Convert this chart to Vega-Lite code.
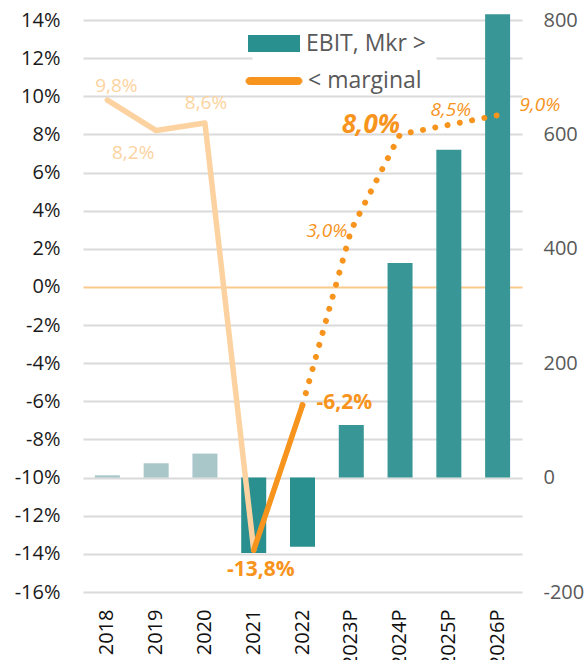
{
  "$schema": "https://vega.github.io/schema/vega-lite/v6.json",
  "width": 439,
  "height": 572,
  "autosize": {"type": "none"},
  "padding": {"left": 83, "top": 20, "right": 66, "bottom": 68},
  "background": "white",
  "config": {"view": {"stroke": null}, "font": "Open Sans"},
  "data": {
    "values": [
      {"year": "2018", "ebit": 4, "margin": 9.8, "kind": "early", "lbl": "9,8%"},
      {"year": "2019", "ebit": 25, "margin": 8.2, "kind": "early", "lbl": "8,2%"},
      {"year": "2020", "ebit": 42, "margin": 8.6, "kind": "early", "lbl": "8,6%"},
      {"year": "2021", "ebit": -132, "margin": -13.8, "kind": "loss", "lbl": "-13,8%"},
      {"year": "2022", "ebit": -121, "margin": -6.2, "kind": "loss", "lbl": "-6,2%"},
      {"year": "2023P", "ebit": 92, "margin": 3.0, "kind": "proj", "lbl": "3,0%"},
      {"year": "2024P", "ebit": 375, "margin": 8.0, "kind": "proj", "lbl": "8,0%"},
      {"year": "2025P", "ebit": 573, "margin": 8.5, "kind": "proj", "lbl": "8,5%"},
      {"year": "2026P", "ebit": 810, "margin": 9.0, "kind": "proj", "lbl": "9,0%"}
    ]
  },
  "encoding": {
    "x": {
      "field": "year",
      "type": "nominal",
      "sort": null,
      "scale": {"domain": ["2018", "2019", "2020", "2021", "2022", "2023P", "2024P", "2025P", "2026P"], "paddingInner": 0, "paddingOuter": 0},
      "axis": {"title": null, "labelAngle": -90, "ticks": false, "domain": false, "labelPadding": 17, "labelFontSize": 20, "labelColor": "#111111", "grid": false}
    }
  },
  "layer": [
    {
      "mark": {"type": "bar", "size": 25},
      "encoding": {
        "y": {
          "field": "ebit",
          "type": "quantitative",
          "scale": {"domain": [-200, 800], "nice": false},
          "axis": {"orient": "right", "values": [-200, 0, 200, 400, 600, 800], "labelExpr": "'' + datum.value", "title": null, "ticks": false, "domain": false, "grid": false, "labelPadding": 21, "labelFontSize": 20, "labelColor": "#595959"}
        },
        "fill": {
          "field": "kind",
          "type": "nominal",
          "scale": {"domain": ["early", "loss", "proj"], "range": ["#a9c6c9", "#2a8f8f", "#389696"]},
          "legend": {"values": ["loss"], "labelExpr": "'EBIT, Mkr >'", "orient": "none", "legendX": 169.5, "legendY": 2, "title": null, "symbolType": "M-2.6,-0.85L2.6,-0.85L2.6,0.85L-2.6,0.85Z", "symbolSize": 400, "symbolStrokeWidth": 0, "labelOffset": 20.5, "labelFontSize": 23, "labelColor": "#595959", "padding": 10, "fillColor": "white"}
        }
      }
    },
    {
      "encoding": {
        "y": {
          "field": "margin",
          "type": "quantitative",
          "scale": {"domain": [-16, 14], "nice": false},
          "axis": {
            "orient": "left",
            "values": [-16, -14, -12, -10, -8, -6, -4, -2, 0, 2, 4, 6, 8, 10, 12, 14],
            "labelExpr": "datum.value + '%'",
            "title": null,
            "ticks": false,
            "domain": false,
            "labelPadding": 23,
            "labelFontSize": 20,
            "labelColor": "#1a1a1a",
            "grid": true,
            "gridColor": {"condition": {"test": "datum.value === 0", "value": "#fbc98c"}, "value": "#dadada"},
            "gridWidth": 2
          }
        }
      },
      "layer": [
        {
          "transform": [{"filter": {"field": "year", "oneOf": ["2018", "2019", "2020", "2021"]}}],
          "mark": {"type": "line", "strokeWidth": 5.5, "strokeCap": "round", "strokeJoin": "round"},
          "encoding": {
            "stroke": {
              "datum": "hist",
              "type": "nominal",
              "scale": {"domain": ["hist", "act", "proj"], "range": ["#fcd3a0", "#f7941d", "#f7941d"]},
              "legend": {"values": ["act"], "labelExpr": "'< marginal'", "orient": "none", "legendX": 179.5, "legendY": 49.5, "title": null, "symbolType": "M-2.45,-0.35L2.45,-0.35A0.35,0.35,0,0,1,2.45,0.35L-2.45,0.35A0.35,0.35,0,0,1,-2.45,-0.35Z", "symbolSize": 400, "symbolStrokeWidth": 1, "symbolFillColor": "#f7941d", "labelOffset": 22.5, "labelFontSize": 23, "labelColor": "#595959", "padding": 0}
            }
          }
        },
        {
          "transform": [{"filter": {"field": "year", "oneOf": ["2021", "2022"]}}],
          "mark": {"type": "line", "strokeWidth": 5.5, "strokeCap": "round", "strokeJoin": "round"},
          "encoding": {"stroke": {"datum": "act", "type": "nominal"}}
        },
        {
          "transform": [{"filter": {"field": "year", "oneOf": ["2022", "2023P", "2024P", "2025P", "2026P"]}}],
          "mark": {"type": "line", "strokeWidth": 6, "strokeCap": "round", "strokeDash": [0.001, 12.5]},
          "encoding": {"stroke": {"datum": "proj", "type": "nominal"}}
        },
        {
          "transform": [{"filter": {"field": "year", "equal": "2018"}}],
          "mark": {"type": "text", "fontSize": 19, "color": "#fcd3a0", "dx": 9, "dy": -14},
          "encoding": {"text": {"field": "lbl"}}
        },
        {
          "transform": [{"filter": {"field": "year", "equal": "2019"}}],
          "mark": {"type": "text", "fontSize": 19, "color": "#fcd3a0", "dx": -23, "dy": 22},
          "encoding": {"text": {"field": "lbl"}}
        },
        {
          "transform": [{"filter": {"field": "year", "equal": "2020"}}],
          "mark": {"type": "text", "fontSize": 19, "color": "#fcd3a0", "dx": 1, "dy": -20},
          "encoding": {"text": {"field": "lbl"}}
        },
        {
          "transform": [{"filter": {"field": "year", "equal": "2021"}}],
          "mark": {"type": "text", "fontSize": 21, "fontWeight": "bold", "color": "#f7941d", "dx": 7, "dy": 20},
          "encoding": {"text": {"field": "lbl"}}
        },
        {
          "transform": [{"filter": {"field": "year", "equal": "2022"}}],
          "mark": {"type": "text", "fontSize": 21, "fontWeight": "bold", "color": "#f7941d", "align": "left", "dx": 14, "dy": -2},
          "encoding": {"text": {"field": "lbl"}}
        },
        {
          "transform": [{"filter": {"field": "year", "equal": "2023P"}}],
          "mark": {"type": "text", "fontSize": 19, "fontStyle": "italic", "color": "#f7941d", "align": "right", "dx": -4, "dy": 1},
          "encoding": {"text": {"field": "lbl"}}
        },
        {
          "transform": [{"filter": {"field": "year", "equal": "2024P"}}],
          "mark": {"type": "text", "fontSize": 26, "fontWeight": "bold", "fontStyle": "italic", "color": "#f7941d", "align": "right", "dx": 0, "dy": -9},
          "encoding": {"text": {"field": "lbl"}}
        },
        {
          "transform": [{"filter": {"field": "year", "equal": "2025P"}}],
          "mark": {"type": "text", "fontSize": 19, "fontStyle": "italic", "color": "#f7941d", "dx": 2, "dy": -15},
          "encoding": {"text": {"field": "lbl"}}
        },
        {
          "transform": [{"filter": {"field": "year", "equal": "2026P"}}],
          "mark": {"type": "text", "fontSize": 19, "fontStyle": "italic", "color": "#f7941d", "align": "left", "dx": 22, "dy": -10},
          "encoding": {"text": {"field": "lbl"}}
        }
      ]
    }
  ],
  "resolve": {"scale": {"y": "independent"}}
}
